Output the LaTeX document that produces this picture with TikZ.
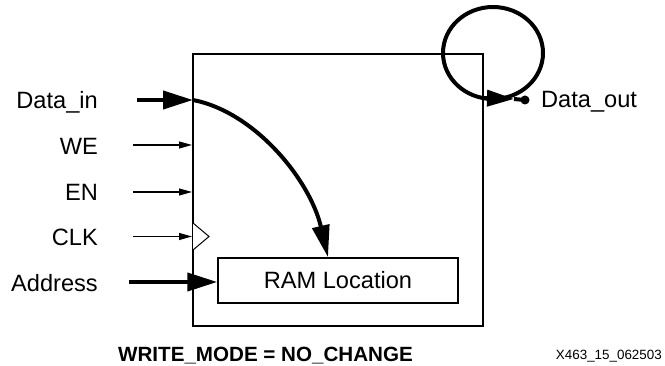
\documentclass[tikz,border=0pt]{standalone}
\usepackage{fontspec}
\setmainfont{Liberation Sans}
\usetikzlibrary{arrows.meta,calc}
\begin{document}
\begin{tikzpicture}[x=1pt,y=-1pt,
  lbl/.style={anchor=east,inner sep=0pt,font=\fontsize{23.6}{28}\selectfont},
  boxline/.style={draw,line width=2pt},
  thinarrow/.style={line width=1.2pt,-{Triangle[length=13pt,width=7pt]}},
  thickarrow/.style={line width=4pt,-{Triangle[length=30pt,width=18pt]}},
  curvearrow/.style={line width=4pt,-{Triangle[length=32pt,width=17pt]}}]
\useasboundingbox (0,0) rectangle (665,366);
% main block
\node[boxline,minimum width=290pt,minimum height=272pt,inner sep=0pt] (blk) at (338,190) {};
% RAM location
\node[draw,line width=1.5pt,minimum width=240pt,minimum height=45pt,inner sep=0pt,
      font=\fontsize{23.6}{28}\selectfont] (ram) at (338,280.5) {RAM Location};
% labels
\node[lbl] (din) at (98,102) {Data\_in};
\node[lbl] (we) at (98,146) {WE};
\node[lbl] (en) at (98,192) {EN};
\node[lbl] (clk) at (98,237) {CLK};
\node[lbl] (addr) at (98,283) {Address};
\node[anchor=west,inner sep=0pt,font=\fontsize{23.6}{28}\selectfont] (dout) at (541,102) {Data\_out};
% connector start points
\coordinate (dinS) at (137,100);
\coordinate (dinE) at (193,100);
\coordinate (weS) at (133,145);
\coordinate (weE) at (192,145);
\coordinate (enS) at (133,192);
\coordinate (enE) at (192,192);
\coordinate (clkS) at (133,236.5);
\coordinate (clkE) at (192,236.5);
\coordinate (addrS) at (129,282);
% input arrows
\draw[thickarrow] (dinS) -- (dinE);
\draw[curvearrow] (dinE) .. controls (255,112) and (310,180) .. ($(ram.north)+(-10,0)$);
\draw[thinarrow] (weS) -- (weE);
\draw[thinarrow] (enS) -- (enE);
\draw[thinarrow] (clkS) -- (clkE);
\draw[thickarrow] (addrS) -- (addrS -| ram.west);
% clock triangle
\draw[line width=1pt,fill=white] (193,223) -- (209,236.5) -- (193,250);
% output loop
\coordinate (loopC) at (493,53);
\draw[line width=4pt] (loopC) ellipse [x radius=50pt, y radius=46pt];
\coordinate (outA) at (482,98);
\coordinate (outB) at (514,99);
\coordinate (outDot) at (525,100);
\draw[line width=4pt,-{Triangle[length=27pt,width=16pt]}] (outA) -- (outB);
\draw[line width=4pt] (outB) -- (outDot);
\fill (outDot) circle (4.5pt);
% captions
\node[inner sep=0pt,font=\bfseries\fontsize{20.6}{24}\selectfont] (mode) at (265.5,356) {WRITE\_MODE = NO\_CHANGE};
\node[anchor=east,inner sep=0pt,font=\fontsize{13.4}{16}\selectfont] (fig) at (662,356) {X463\_15\_062503};
\end{tikzpicture}
\end{document}
